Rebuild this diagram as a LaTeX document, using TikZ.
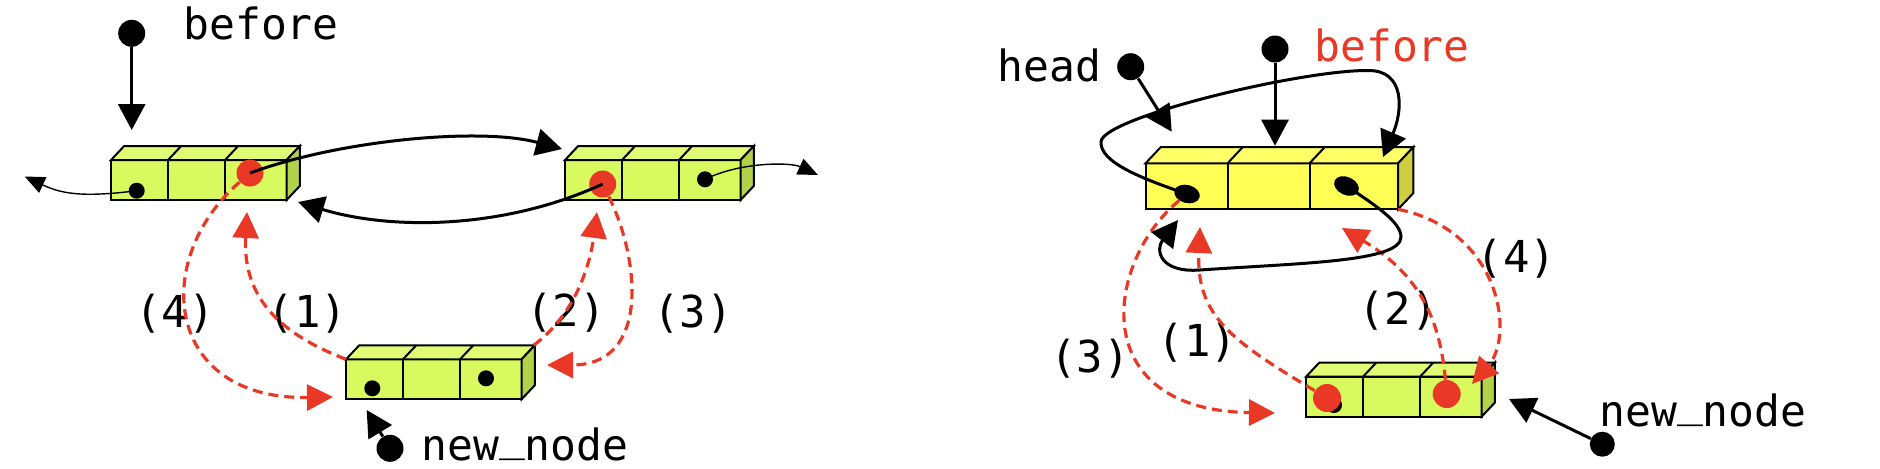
\documentclass[tikz,border=0pt]{standalone}
\usepackage{fontspec}
\setmonofont{DejaVu Sans Mono}
\usetikzlibrary{arrows.meta,shapes.geometric}

\definecolor{limeF}{RGB}{216,250,94}
\definecolor{limeT}{RGB}{224,252,116}
\definecolor{limeS}{RGB}{178,210,76}
\definecolor{yelF}{RGB}{255,255,86}
\definecolor{yelT}{RGB}{255,255,104}
\definecolor{yelS}{RGB}{206,206,66}
\definecolor{ptred}{RGB}{233,57,38}

\newcommand{\uscore}{\raisebox{.22em}{\_}}

% a list node: three cells with a top and a side face
\newcommand{\listbox}[5]{%
  \pgfmathsetmacro{\boxlw}{1.08*#3}%
  \pgfmathsetmacro{\boxdx}{0.33*#4}%
  \pgfmathsetmacro{\boxdy}{0.35*#4}%
  \node[cell, fill=#5F, minimum width=#3pt, minimum height=#4pt] (#11) at #2 {};
  \node[cell, fill=#5F, minimum width=#3pt, minimum height=#4pt] (#12) at (#11.north east) {};
  \node[cell, fill=#5F, minimum width=\boxlw pt, minimum height=#4pt] (#13) at (#12.north east) {};
  \draw[line width=1pt, fill=#5T] (#11.north west) -- ++(\boxdx pt,\boxdy pt)
    -- ([shift={(\boxdx pt,\boxdy pt)}]#13.north east) -- (#13.north east) -- cycle;
  \draw[line width=1pt] (#11.north east) -- ++(\boxdx pt,\boxdy pt)
    (#12.north east) -- ++(\boxdx pt,\boxdy pt);
  \draw[line width=1pt, fill=#5S] (#13.north east) -- ++(\boxdx pt,\boxdy pt)
    -- ([shift={(\boxdx pt,\boxdy pt)}]#13.south east) -- (#13.south east) -- cycle;
}

\begin{document}
\begin{tikzpicture}[x=0.5pt, y=-0.5pt,
    cell/.style={draw, line width=1pt, anchor=north west, inner sep=0pt, outer sep=0pt},
    bdot/.style={circle, fill=black, inner sep=0pt, minimum size=8pt},
    rdot/.style={circle, fill=ptred, inner sep=0pt, minimum size=13.5pt},
    pdot/.style={circle, fill=black, inner sep=0pt, minimum size=13.5pt},
    blob/.style={ellipse, fill=black, inner sep=0pt, minimum width=13pt, minimum height=9pt},
    varname/.style={font=\ttfamily\fontsize{21.5}{24}\selectfont, inner sep=0pt, anchor=base west},
    numlbl/.style={font=\ttfamily\fontsize{22}{26}\selectfont, inner sep=0pt},
    ptr/.style={line width=1.5pt, -{Triangle[length=13pt,width=13.5pt]}},
    tail/.style={line width=0.7pt, -{Triangle[length=10pt,width=8.5pt]}},
    chg/.style={ptred, line width=1.6pt, dash pattern=on 5pt off 3pt,
      -{Triangle[length=13pt,width=13pt]}}]
  \useasboundingbox (0,0) rectangle (1880,468);

  % ---- insert after before, left
  \listbox{a}{(111,160)}{28.5}{20}{lime}
  \listbox{b}{(565,160)}{28.5}{20}{lime}
  \listbox{c}{(346,359.3)}{28.5}{20}{lime}

  \node[numlbl] (l4) at (175,313.5) {(4)};
  \node[numlbl] (l1) at (307.5,313.3) {(1)};
  \node[numlbl] (l2) at (566,312.5) {(2)};
  \node[numlbl] (l3) at (693,314) {(3)};

  \coordinate (aTop) at (131.7,130);
  \coordinate (bIn) at (562,149);
  \coordinate (aIn) at (298,202);
  \coordinate (aTail) at (24.7,176.5);
  \coordinate (bTail) at (818,175);
  \coordinate (aUp) at (247,212);
  \coordinate (bUp) at (597,212);
  \coordinate (cIn3) at (547,365);
  \coordinate (cIn4) at (333,397);
  \coordinate (cPtr) at (366.7,410);

  \node[bdot] (a1d) at (136.7,190.7) {};
  \node[rdot] (a3d) at (250,173) {};
  \node[rdot] (b1d) at (602.7,184) {};
  \node[bdot] (b3d) at (705,179.3) {};
  \node[bdot] (c1d) at (372.3,388.3) {};
  \node[bdot] (c3d) at (486,378.3) {};

  \node[pdot] (befl) at (131.7,33.3) {};
  \node[varname] (befltxt) at (183,39) {before};
  \node[pdot] (newl) at (390,448.3) {};
  \node[varname] (newltxt) at (421,460) {new\uscore node};

  \draw[chg] (c1.north west) .. controls (270,330) and (243,290) .. (aUp);
  \draw[chg] ([shift={(6pt,7pt)}]c3.north east) .. controls (575,315) and (590,265) .. (bUp);
  \draw[chg] (b1d) .. controls (640,260) and (650,365) .. (cIn3);
  \draw[chg] (a3d) .. controls (150,260) and (165,400) .. (cIn4);

  \draw[ptr] (befl) -- (aTop);
  \draw[ptr] (a3d.center) .. controls (340,140) and (480,127) .. (bIn);
  \draw[ptr] (b1d.center) .. controls (503,230) and (390,230) .. (aIn);
  \draw[tail] (a1d.center) .. controls (80,198) and (60,193) .. (aTail);
  \draw[tail] (b3d.center) .. controls (740,162) and (790,162) .. (bTail);
  \draw[ptr] (newl) -- (cPtr);

  % ---- insert after before, right
  \listbox{d}{(1145.5,163.3)}{41}{23}{yel}
  \listbox{e}{(1306,376.7)}{28.5}{20}{lime}

  \node[numlbl] (r3) at (1090,359) {(3)};
  \node[numlbl] (r1) at (1197.5,342.5) {(1)};
  \node[numlbl] (r2) at (1398,311) {(2)};
  \node[numlbl] (r4) at (1516.5,258.6) {(4)};

  \coordinate (dHead) at (1171.7,131.7);
  \coordinate (dBef) at (1275,145.7);
  \coordinate (dTop3) at (1383,157);
  \coordinate (dBot1) at (1178,220);
  \coordinate (dUp1) at (1200,227);
  \coordinate (dUp2) at (1342,228);
  \coordinate (eIn3) at (1275,413);
  \coordinate (eIn4) at (1472,384);
  \coordinate (ePtr) at (1509,399);

  \node[blob, rotate=-15] (d1d) at (1187,194) {};
  \node[blob, rotate=-25] (d3d) at (1346.5,186) {};
  \node[bdot] (e1d) at (1334,405) {};
  \node[rdot, minimum size=14pt] (e1r) at (1327,398) {};
  \node[rdot, minimum size=14pt] (e3r) at (1446.7,394) {};

  \node[pdot] (head) at (1130.7,66.7) {};
  \node[varname] (headtxt) at (997.5,81.7) {head};
  \node[pdot] (befr) at (1275,49) {};
  \node[varname, text=ptred] (befrtxt) at (1314,61) {before};
  \node[pdot, minimum size=12.5pt] (newr) at (1602.3,444.2) {};
  \node[varname] (newrtxt) at (1599,426) {new\uscore node};

  \draw[chg] (e1r) .. controls (1230,340) and (1196,315) .. (dUp1);
  \draw[chg] (e3r) .. controls (1440,320) and (1420,275) .. (dUp2);
  \draw[chg] (d1d) .. controls (1105,262) and (1085,410) .. (eIn3);
  \draw[chg] (d3.south east) .. controls (1500,230) and (1515,335) .. (eIn4);

  \draw[ptr] (head) -- (dHead);
  \draw[ptr] (befr) -- (dBef);
  \draw[ptr] (newr) -- (ePtr);
  \draw[ptr] (d1d.center) .. controls (1140,178) and (1100,162) .. (1101,142)
    .. controls (1101,118) and (1300,70) .. (1368,70.5)
    .. controls (1405,70) and (1403,110) .. (dTop3);
  \draw[ptr] (d3d.center) .. controls (1375,205) and (1401,222) .. (1401,237)
    .. controls (1401,262) and (1300,263) .. (1200,270)
    .. controls (1160,273) and (1155,250) .. (dBot1);
\end{tikzpicture}
\end{document}
